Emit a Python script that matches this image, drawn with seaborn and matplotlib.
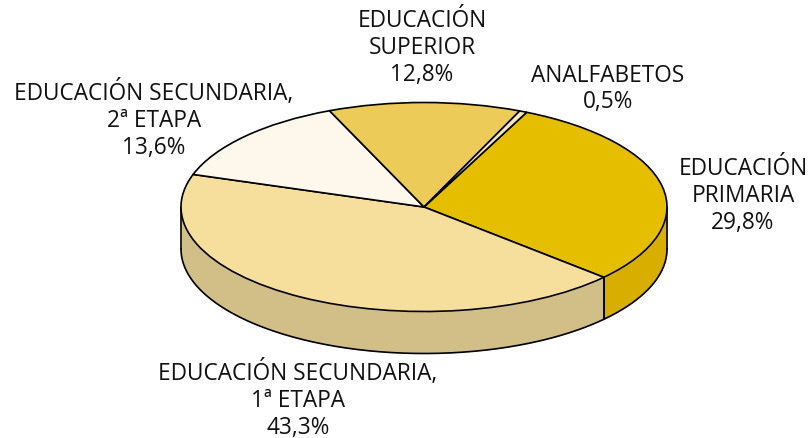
"""3D-looking pie of population by education level, drawn on a squashed axes."""

import numpy as np
import matplotlib
matplotlib.use("Agg")
import matplotlib.pyplot as plt
import seaborn as sns

W, H = 808, 439
CX, CY = 424, 208      # pie centre in pixels, from the top left
RX, RY = 243, 104.5    # semi-axes of the top face
DEPTH = 42 / RY        # side wall height in y units

categories = ["EDUCACIÓN\nPRIMARIA", "EDUCACIÓN SECUNDARIA,\n1ª ETAPA",
              "EDUCACIÓN SECUNDARIA,\n2ª ETAPA", "EDUCACIÓN\nSUPERIOR", "ANALFABETOS"]
values = [29.8, 43.3, 13.6, 12.8, 0.5]
top_colors = ["#E6BE00", "#F6DF9D", "#FEF7EC", "#ECCB58", "#F8E8C0"]
side_colors = ["#D8AE00", "#D2BE87", "#E8E0D0", "#D8B850", "#E0D0A8"]
label_pos = [(743, 196), (298, 400), (154, 120), (422, 48), (608, 89)]

START = 65


def to_data(px, py):
    return (px - CX) / RX, (CY - py) / RY


def draw_side(ax):
    # wall segments, only where the rim faces the viewer (180..360 deg)
    angle = START
    for val, col in zip(values, side_colors):
        a0, a1 = angle - val * 3.6, angle
        angle = a0
        lo, hi = np.radians(a0) % (2 * np.pi), np.radians(a1) % (2 * np.pi)
        if hi == 0 or hi < lo:
            hi += 2 * np.pi
        for s, e in ((lo, hi), (lo - 2 * np.pi, hi - 2 * np.pi)):
            s, e = max(s, -np.pi), min(e, 0)
            if s >= e:
                continue
            t = np.linspace(s, e, 200)
            x, y = np.cos(t), np.sin(t)
            ax.fill_between(x, y, y - DEPTH, color=col, lw=0, zorder=1)
            ax.plot(x, y - DEPTH, color="black", lw=1.2, zorder=2)
            ax.plot([x[0], x[0]], [y[0], y[0] - DEPTH], color="black", lw=1.2, zorder=2)
            ax.plot([x[-1], x[-1]], [y[-1], y[-1] - DEPTH], color="black", lw=1.2, zorder=2)


def main():
    sns.set_theme(style="white")
    plt.rcParams["font.family"] = ["Open Sans", "DejaVu Sans"]

    fig = plt.figure(figsize=(W / 100, H / 100), dpi=100)
    ax = fig.add_axes([0, 0, 1, 1])

    wedges, _ = ax.pie(values, colors=sns.color_palette(top_colors), startangle=START,
                       counterclock=False, radius=1,
                       wedgeprops={"edgecolor": "black", "linewidth": 1.2, "zorder": 3})
    draw_side(ax)

    ax.set_aspect("auto")
    ax.set_xlim(to_data(0, 0)[0], to_data(W, 0)[0])
    ax.set_ylim(to_data(0, H)[1], to_data(0, 0)[1])
    ax.axis("off")

    for cat, val, (px, py) in zip(categories, values, label_pos):
        txt = f"{cat}\n{val:.1f}%".replace(".", ",")
        x, y = to_data(px, py)
        ax.text(x, y, txt, ha="center", va="center", fontsize=16.3,
                color="#111111", linespacing=1.14, zorder=5)

    fig.savefig("out.png", dpi=100)
    plt.close(fig)


if __name__ == "__main__":
    main()
